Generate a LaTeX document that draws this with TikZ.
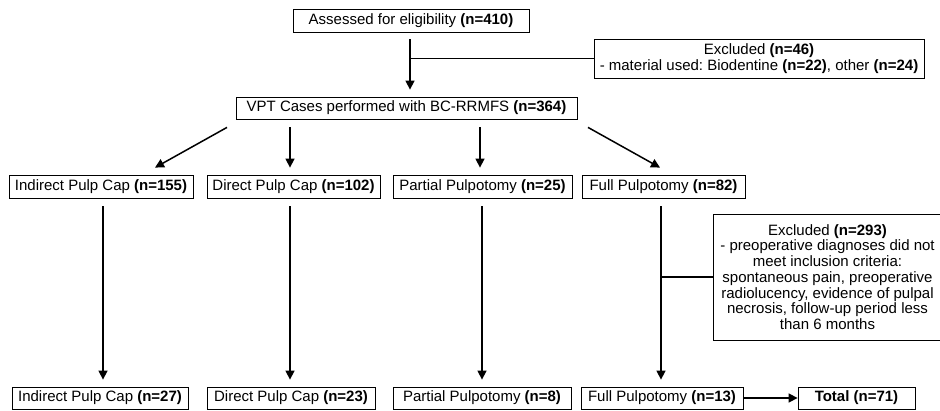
\documentclass[tikz,border=0pt]{standalone}
\usepackage{fontspec}
\setmainfont{Liberation Sans}
\usetikzlibrary{arrows.meta}
\frenchspacing
\begin{document}
\begin{tikzpicture}[x=1pt,y=-1pt,
  box/.style={draw, line width=0.8pt, inner sep=0pt, minimum height=23pt, font=\fontsize{15}{17}\selectfont},
  arr/.style={line width=1.5pt, -{Triangle[length=9pt,width=9pt]}},
  ln/.style={line width=1.5pt}]
\useasboundingbox (0,0) rectangle (940,411);
\node[box, minimum width=236pt] (1) at (411,20.5) {Assessed for eligibility \textbf{(n=410)}};
\node[box, minimum width=330pt, minimum height=39pt, align=center, font=\fontsize{15}{16}\selectfont] (2) at (759,58.5) {Excluded \textbf{(n=46)}\\- material used: Biodentine \textbf{(n=22)}, other \textbf{(n=24)}};
\node[box, minimum width=341pt, minimum height=22pt] (3) at (406.5,108) {VPT Cases performed with BC-RRMFS \textbf{(n=364)}};

\node[box, minimum width=184pt] (4) at (101,186.5) {Indirect Pulp Cap \textbf{(n=155)}};
\node[box, minimum width=173pt] (5) at (293.5,186.5) {Direct Pulp Cap \textbf{(n=102)}};
\node[box, minimum width=179pt] (6) at (482.5,186.5) {Partial Pulpotomy \textbf{(n=25)}};
\node[box, minimum width=163pt] (7) at (663.5,186.5) {Full Pulpotomy \textbf{(n=82)}};

\node[box, minimum width=229pt, minimum height=126pt, align=center, font=\fontsize{15}{15.7}\selectfont] (8) at (827.5,277) {Excluded \textbf{(n=293)}\\- preoperative diagnoses did not\\meet inclusion criteria:\\spontaneous pain, preoperative\\radiolucency, evidence of pulpal\\necrosis, follow-up period less\\than 6 months};

\node[box, minimum width=176pt, minimum height=22pt] (9) at (100,398) {Indirect Pulp Cap \textbf{(n=27)}};
\node[box, minimum width=168pt, minimum height=22pt] (10) at (291,398) {Direct Pulp Cap \textbf{(n=23)}};
\node[box, minimum width=178pt, minimum height=22pt] (11) at (482,398) {Partial Pulpotomy \textbf{(n=8)}};
\node[box, minimum width=162pt, minimum height=22pt] (12) at (662,398) {Full Pulpotomy \textbf{(n=13)}};
\node[box, minimum width=117pt, minimum height=22pt] (13) at (856.5,398) {\textbf{Total (n=71)}};

\draw[arr, shorten <=7pt, shorten >=7pt] ([xshift=-1pt]1.south) -- ([xshift=3.5pt]3.north);
\draw[ln] (2.west) -- ([xshift=-1pt]2.west -| 1.south);

\draw[arr] ([xshift=-179.5pt,yshift=-8pt]3.south) -- ([xshift=54pt,yshift=7pt]4.north);
\draw[arr] ([xshift=-116.5pt,yshift=-8pt]3.south) -- ([xshift=-3.5pt,yshift=7pt]5.north);
\draw[arr] ([xshift=73.5pt,yshift=-8pt]3.south) -- ([xshift=-2.5pt,yshift=7pt]6.north);
\draw[arr] ([xshift=181.5pt,yshift=-8pt]3.south) -- ([xshift=-3.5pt,yshift=7pt]7.north);

\draw[arr] ([xshift=2pt,yshift=-8pt]4.south) -- ([xshift=3pt,yshift=7pt]9.north);
\draw[arr] ([xshift=-3.5pt,yshift=-8pt]5.south) -- ([xshift=-1pt,yshift=7pt]10.north);
\draw[arr] ([xshift=-0.5pt,yshift=-8pt]6.south) -- ([yshift=7pt]11.north);
\draw[arr] ([xshift=-2.5pt,yshift=-8pt]7.south) -- ([xshift=-1pt,yshift=7pt]12.north);
\draw[ln] (8.west) -- ([xshift=-1pt]8.west -| 12.north);

\draw[arr] (12.east) -- (13.west);
\end{tikzpicture}
\end{document}
